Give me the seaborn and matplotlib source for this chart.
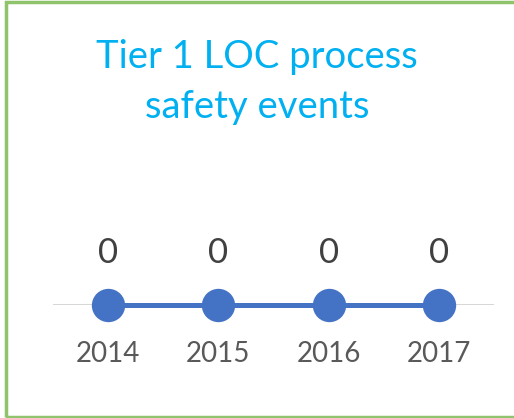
import seaborn as sns
import matplotlib
matplotlib.use('Agg')
import matplotlib.pyplot as plt
from matplotlib.patches import Rectangle
import pandas as pd

years = ["2014", "2015", "2016", "2017"]
events = [0, 0, 0, 0]
title = "Tier 1 LOC process\nsafety events"

sns.set_theme(style="white")
plt.rcParams['font.family'] = ['Lato', 'DejaVu Sans']

df = pd.DataFrame({"year": years, "events": events})

W, H = 514, 418
fig = plt.figure(figsize=(W / 100, H / 100), dpi=100)
# axes: x from 53 to 494 px, y=0 baseline at 305 px
ax = fig.add_axes([53 / W, (H - 305) / H, 441 / W, 60 / H])

ax.axhline(0, color='#d0d0d0', lw=1.2, zorder=0)
sns.lineplot(data=df, x="year", y="events", ax=ax, color='#4472c4', lw=3.6,
             marker='o', markersize=24, markeredgewidth=0, clip_on=False)
ax.set_xlim(-0.5, 3.5)
ax.set_ylim(0, 1)

for i, v in enumerate(events):
    ax.annotate(str(v), (i, v), xytext=(0, 30), textcoords='offset points',
                ha='center', va='baseline', fontsize=25, color='#404040')

ax.set_xticks(range(len(years)))
ax.set_xticklabels(years, fontsize=20, color='#595959')
ax.tick_params(axis='x', length=0, pad=26)
ax.set_yticks([])
ax.set_xlabel("")
ax.set_ylabel("")
sns.despine(ax=ax, left=True, bottom=True)

fig.text(257 / W, 1 - 82 / H, title, ha='center', va='center', fontsize=27.5,
         color='#00b0f0', linespacing=1.45)

fig.patches.append(Rectangle((6 / W, 1.5 / H), 1.2, 1 - 3 / H, transform=fig.transFigure,
                             fill=False, edgecolor='#8fc36c', lw=2.5))

fig.savefig("out.png", dpi=100)
